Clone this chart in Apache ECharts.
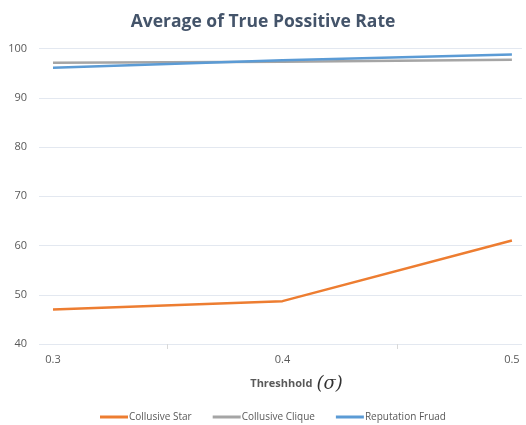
<!DOCTYPE html>
<html>
<head>
    <meta charset="utf-8">
    <title>Average of True Possitive Rate</title>
    <script src="https://cdn.jsdelivr.net/npm/echarts@6/dist/echarts.min.js"></script>
    <style>
        html, body { margin: 0; padding: 0; background: #fff; }
        #container { width: 526px; height: 425px; }
    </style>
</head>
<body>
<div id="container"></div>
<script>
    // data
    var thresholds = [0.3, 0.4, 0.5];
    var collusiveStar = [47.0, 48.7, 61.0];
    var collusiveClique = [97.1, 97.3, 97.7];
    var reputationFruad = [96.1, 97.6, 98.8];
    var yTicks = [40, 50, 60, 70, 80, 90, 100];

    function pairs(xs, ys) {
        return xs.map(function (x, i) { return [x, ys[i]]; });
    }

    var myChart = echarts.init(document.getElementById('container'));

    var option = {
        animation: false,
        textStyle: { fontFamily: 'Open Sans, sans-serif' },
        title: {
            text: 'Average of True Possitive Rate',
            left: 'center',
            top: 8,
            textStyle: { fontSize: 17.5, fontWeight: 'bold', color: '#44546a', fontFamily: 'Open Sans, sans-serif' }
        },
        legend: {
            left: 95,
            bottom: -2,
            itemWidth: 28,
            itemHeight: 3,
            itemGap: 21,
            icon: 'rect',
            textStyle: { fontSize: 10, color: '#595959', padding: [0, 0, 0, -4] },
            data: ['Collusive Star', 'Collusive Clique', 'Reputation Fruad']
        },
        grid: { left: 39, right: 4, top: 48.5, bottom: 81 },
        xAxis: {
            type: 'value',
            min: 0.2939,
            max: 0.5044,
            name: '{t|Threshhold}{s|(σ)}',
            nameLocation: 'middle',
            nameGap: 31,
            nameTextStyle: {
                padding: [0, 0, 0, 32],
                rich: {
                    t: { fontSize: 11, fontWeight: 'bold', color: '#595959' },
                    s: { fontSize: 18, fontStyle: 'italic', fontFamily: 'DejaVu Serif, serif', color: '#333', padding: [0, 0, 0, 4] }
                }
            },
            axisLine: { show: false },
            axisTick: { show: true, length: 5, lineStyle: { color: '#d9d9d9' }, customValues: [0.35, 0.45] },
            axisLabel: { customValues: thresholds, color: '#595959', fontSize: 11, margin: 10,
                formatter: function (v) { return v.toFixed(1); } },
            splitLine: { show: false }
        },
        yAxis: {
            type: 'value',
            min: yTicks[0],
            max: yTicks[yTicks.length - 1],
            interval: 10,
            axisLine: { show: false },
            axisTick: { show: false },
            axisLabel: { color: '#595959', fontSize: 11, margin: 12 },
            splitLine: { lineStyle: { color: '#e3e8f0', width: 1 } }
        },
        series: [
            {
                name: 'Collusive Star', type: 'line', showSymbol: false,
                itemStyle: { color: '#ED7D31' }, lineStyle: { width: 2.5, color: '#ED7D31' },
                data: pairs(thresholds, collusiveStar)
            },
            {
                name: 'Collusive Clique', type: 'line', showSymbol: false,
                itemStyle: { color: '#A5A5A5' }, lineStyle: { width: 2.5, color: '#A5A5A5' },
                data: pairs(thresholds, collusiveClique)
            },
            {
                name: 'Reputation Fruad', type: 'line', showSymbol: false,
                itemStyle: { color: '#5B9BD5' }, lineStyle: { width: 2.5, color: '#5B9BD5' },
                data: pairs(thresholds, reputationFruad)
            }
        ]
    };

    myChart.setOption(option);
</script>
</body>
</html>
